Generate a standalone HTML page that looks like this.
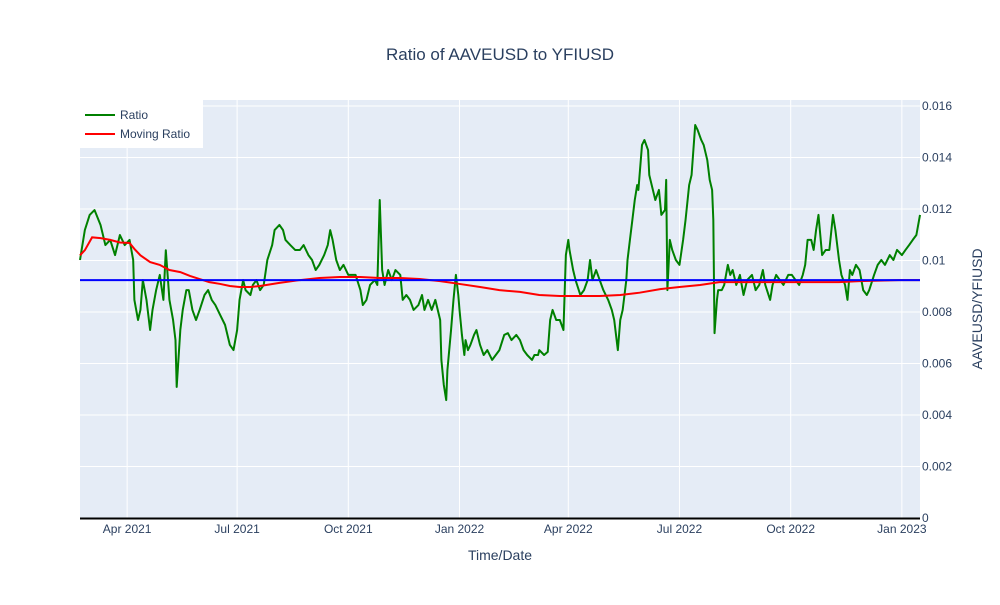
<!DOCTYPE html>
<html><head><meta charset="utf-8"><style>
body{margin:0;background:#fff;font-family:"Liberation Sans",sans-serif}
svg text{font-family:"Liberation Sans",sans-serif;fill:#2a3f5f}
</style></head><body>
<svg id="c" width="1000" height="600">
<text x="500" y="60" font-size="17" text-anchor="middle">Ratio of AAVEUSD to YFIUSD</text>
<rect x="80" y="100" width="840" height="418" fill="#e5ecf6"/>
<g id="grid"></g><g id="series"></g>
<line x1="80" y1="518.5" x2="920" y2="518.5" stroke="#000" stroke-width="2"/>
<text x="500" y="560" font-size="14" text-anchor="middle">Time/Date</text>
<text transform="translate(982,309) rotate(-90)" font-size="14" text-anchor="middle">AAVEUSD/YFIUSD</text>
<g>
<rect x="80" y="100" width="123" height="48" fill="#fff"/>
<g><line x1="85" y1="115" x2="115" y2="115" stroke="green" stroke-width="2"/><text x="120" y="119" font-size="12">Ratio</text></g>
<g><line x1="85" y1="134" x2="115" y2="134" stroke="red" stroke-width="2"/><text x="120" y="138" font-size="12">Moving Ratio</text></g>
</g>
</svg>
<script>
const ratioDays=[0,4,8,12,17,21,25,29,33,37,41,44,45,48,50,52,55,58,60,63,66,69,71,74,77,79,80,83,85,88,90,93,96,99,103,106,109,112,116,120,124,127,130,132,135,137,141,143,146,149,152,155,159,161,165,168,170,174,178,182,185,189,192,195,198,202,205,207,209,212,215,218,222,225,228,232,234,237,240,244,246,248,250,252,255,258,261,265,267,270,273,276,280,283,285,288,291,294,298,299,301,303,304,307,309,311,313,314,316,318,319,321,323,326,328,331,334,337,341,344,347,351,354,357,361,364,367,370,374,376,379,380,384,387,389,391,394,397,400,402,404,405,408,410,414,417,420,422,424,427,430,433,437,440,442,445,447,449,452,453,455,457,459,461,462,465,467,470,471,474,476,479,481,484,485,486,488,490,493,496,499,501,504,506,509,511,514,516,519,521,523,524,525,527,528,531,533,536,538,540,543,546,549,552,556,559,562,565,567,571,573,576,579,582,586,589,592,595,598,600,602,605,607,609,611,614,617,620,623,625,628,630,633,635,637,639,642,645,648,651,653,657,660,663,666,670,673,676,680,683,686,689,692,695];
const ratioVals=[100.2,111.8,117.7,119.6,113.8,106,108,102.1,109.9,106,108,100.2,84.7,76.9,80.8,92.4,84.7,73,80.8,88.5,94.4,84.7,104,84.7,76.9,69.1,50.9,73,80.8,88.5,88.5,80.8,76.9,80.8,86.6,88.5,84.7,82.7,78.8,75,67.2,65.2,73,84.7,92.4,88.5,86.6,90.5,92.4,88.5,90.5,100.2,106,111.8,113.8,111.8,108,106,104.1,104.1,106,102.1,100.2,96.3,98.3,102.1,106,111.8,108,100.2,96.3,98.3,94.4,94.4,94.4,88.5,82.7,84.7,90.5,92.4,90.5,123.5,96.3,90.5,96.3,92.4,96.3,94.4,84.7,86.6,84.7,80.8,82.7,86.6,80.8,84.7,80.8,84.7,76.9,61.4,51.7,45.8,57.5,73,84.7,94.4,86.6,80.8,71.1,63.3,69.1,65.2,67.2,71.1,73,67.2,63.3,65.2,61.4,63.3,65.2,71.1,71.8,69.1,71.1,69.1,65.2,63.3,61.4,63.3,63.3,65.2,63.3,64.5,76.9,80.8,76.9,76.9,73,102.1,108,104.1,96.3,92.4,86.6,88.5,92.4,100.2,92.4,96.3,92.4,88.5,84.7,80.8,76.9,65.2,76.9,80.8,92.4,100.2,108,115.7,123.5,129.3,127.4,144.9,146.8,142.9,133.2,127.4,123.5,127.4,117.7,119.6,131.3,88.5,108,104.1,100.2,98.3,108,115.7,129.3,133.2,152.6,150.7,146.8,144.9,139,131.3,127.4,115.7,71.8,84.7,88.5,88.5,90.5,98.3,94.4,96.3,90.5,94.4,86.6,92.4,94.4,88.5,90.5,96.3,90.5,84.7,90.5,94.4,92.4,90.5,94.4,94.4,92.4,90.5,94.4,98.3,108,108,104.1,111.8,117.7,102.1,104.1,104.1,117.7,111.8,100.2,94.4,90.5,84.7,96.3,94.4,98.3,96.3,88.5,86.6,88.5,94.4,98.3,100.2,98.3,102.1,100.2,104.1,102.1,104.1,106,108,109.9,117.7];
const movDays=[0,4,10,17,25,33,41,45,50,58,66,74,83,91,99,107,116,124,132,141,149,165,182,198,215,232,248,265,281,298,314,331,347,364,380,397,414,430,447,463,480,496,513,529,546,562,579,595,612,628,645,678,695];
const movVals=[102,104,109,108.7,108,107,106.8,104.5,102,99.4,98.3,96.3,95.5,94,92.8,91.6,90.9,90.1,89.7,89.7,90.1,91.3,92.4,93.2,93.6,93.6,93.2,93.2,92.8,92,90.9,89.7,88.5,87.8,86.6,86.2,86.2,86.2,86.6,87.5,88.9,89.7,90.5,91.6,91.6,91.6,91.6,91.6,91.6,91.6,92,92.4,92.4];
const meanRatio=92.4;
const yTicks=[0,0.002,0.004,0.006,0.008,0.01,0.012,0.014,0.016];
const yTickLabels=["0","0.002","0.004","0.006","0.008","0.01","0.012","0.014","0.016"];
const xTickDays=[39,130,222,314,404,496,588,680];
const xTickLabels=["Apr 2021","Jul 2021","Oct 2021","Jan 2022","Apr 2022","Jul 2022","Oct 2022","Jan 2023"];
const NS="http://www.w3.org/2000/svg";
const X=d=>80+d*(840/695);
const Y=v=>518-v*(412/0.016);
const grid=document.getElementById('grid'),ser=document.getElementById('series'),svg=document.getElementById('c');
function mk(tag,at,parent){const e=document.createElementNS(NS,tag);for(const k in at)e.setAttribute(k,at[k]);parent.appendChild(e);return e;}
yTicks.forEach((t,i)=>{
 if(t>0){const l=mk('line',{x1:80,x2:920,y1:Y(t),y2:Y(t),stroke:'#fff','stroke-width':1},grid);
 
 }
 const tx=mk('text',{x:922,y:Y(t)+4,'font-size':12},svg);tx.textContent=yTickLabels[i];
 
 
});
xTickDays.forEach((d,i)=>{
 const l=mk('line',{x1:X(d),x2:X(d),y1:100,y2:518,stroke:'#fff','stroke-width':1},grid);
 
 
 const tx=mk('text',{x:X(d),y:533,'font-size':12,'text-anchor':'middle'},svg);tx.textContent=xTickLabels[i];
 
 
});
const gp=mk('polyline',{points:ratioDays.map((d,i)=>X(d)+','+Y(ratioVals[i]*1e-4)).join(' '),fill:'none',stroke:'green','stroke-width':2,'stroke-linejoin':'round'},ser);


const rp=mk('polyline',{points:movDays.map((d,i)=>X(d)+','+Y(movVals[i]*1e-4)).join(' '),fill:'none',stroke:'red','stroke-width':2},ser);


const bl=mk('line',{x1:80,x2:920,y1:Y(meanRatio*1e-4),y2:Y(meanRatio*1e-4),stroke:'blue','stroke-width':2},ser);


</script>
</body></html>
